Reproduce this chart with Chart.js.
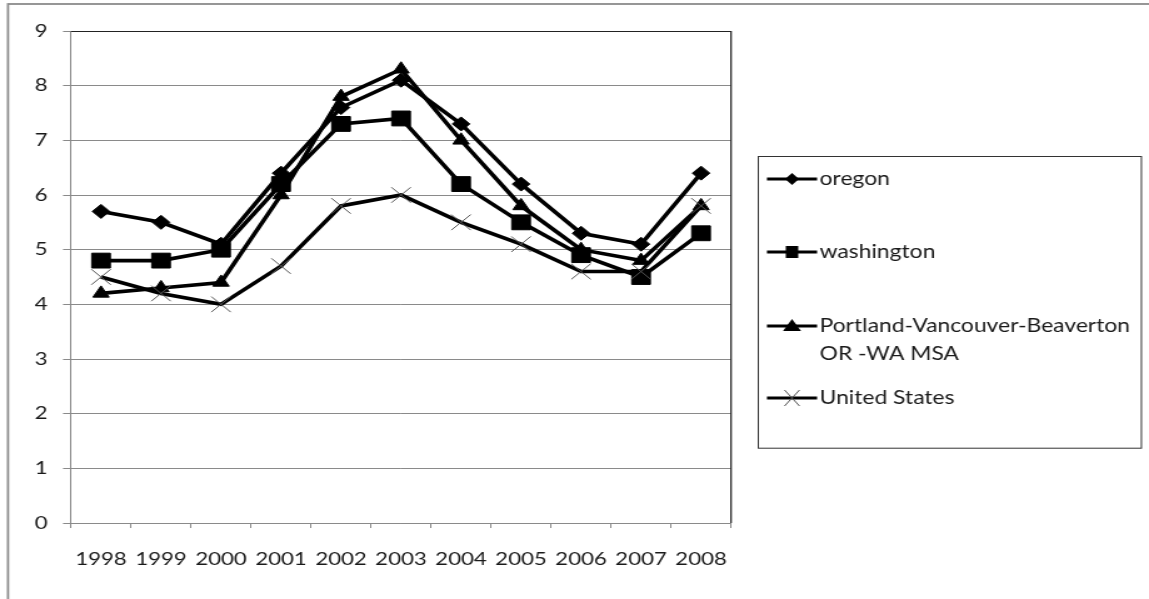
<!DOCTYPE html>
<html>
<head>
<meta charset="utf-8">
<script src="https://cdn.jsdelivr.net/npm/chart.js@4/dist/chart.umd.min.js"></script>
<style>
  html, body { margin: 0; padding: 0; background: #fff; overflow: hidden; }
  #wrap { width: 919px; height: 599px; transform: scaleX(1.2503); transform-origin: 0 0; }
  canvas { display: block; }
</style>
</head>
<body>
<div id="wrap"><canvas id="c" width="919" height="599"></canvas></div>
<script>
// Annual unemployment rate (%)
const years = ['1998', '1999', '2000', '2001', '2002', '2003', '2004', '2005', '2006', '2007', '2008'];
const oregon = [5.7, 5.5, 5.1, 6.4, 7.6, 8.1, 7.3, 6.2, 5.3, 5.1, 6.4];
const washington = [4.8, 4.8, 5.0, 6.2, 7.3, 7.4, 6.2, 5.5, 4.9, 4.5, 5.3];
const portlandMsa = [4.2, 4.3, 4.4, 6.0, 7.8, 8.3, 7.0, 5.8, 5.0, 4.8, 5.8];
const unitedStates = [4.5, 4.2, 4.0, 4.7, 5.8, 6.0, 5.5, 5.1, 4.6, 4.6, 5.8];
const seriesNames = ['oregon', 'washington', ['Portland-Vancouver-Beaverton', 'OR -WA MSA'], 'United States'];
const yTicks = [0, 1, 2, 3, 4, 5, 6, 7, 8, 9];

const FONT = 'Lato, "Liberation Sans", sans-serif';
const TEXT = '#1a1a1a';
const GRID = '#8a8a8a';

// Chart frame, plot-area border and the boxed legend on the right
const framePlugin = {
  id: 'frame',
  beforeDraw(chart) {
    const ctx = chart.ctx;
    ctx.save();
    ctx.fillStyle = '#fff';
    ctx.fillRect(0, 0, chart.width, chart.height);
    ctx.strokeStyle = '#8c8c8c';
    ctx.lineWidth = 1.8;
    ctx.strokeRect(6.4, 4, chart.width + 20, chart.height + 20);
    ctx.restore();
  },
  afterDatasetsDraw(chart) {
    const ctx = chart.ctx;
    const a = chart.chartArea;
    ctx.save();
    ctx.strokeStyle = '#222';
    ctx.lineWidth = 1.2;
    ctx.beginPath();
    ctx.moveTo(a.left, a.top + 0.5);
    ctx.lineTo(a.right, a.top + 0.5);
    ctx.lineTo(a.right, a.bottom);
    ctx.stroke();
    ctx.restore();
  },
  afterDraw(chart) {
    const ctx = chart.ctx;
    const box = { l: 606, t: 156, r: 912.4, b: 447.7 };
    ctx.save();
    ctx.strokeStyle = '#333';
    ctx.lineWidth = 1;
    ctx.strokeRect(box.l + 0.5, box.t + 0.5, box.r - box.l, box.b - box.t);
    const rows = [179, 252, 326, 398];
    const x0 = 613.4, x1 = 653.5, tx = 655.5;
    chart.data.datasets.forEach((ds, i) => {
      const y = rows[i];
      ctx.strokeStyle = '#000';
      ctx.lineWidth = 3;
      ctx.beginPath();
      ctx.moveTo(x0, y);
      ctx.lineTo(x1, y);
      ctx.stroke();
      drawMarker(ctx, ds.legendMarker, (x0 + x1) / 2, y);
      ctx.fillStyle = TEXT;
      ctx.font = '18.3px ' + FONT;
      ctx.textAlign = 'left';
      ctx.textBaseline = 'middle';
      const lines = Array.isArray(seriesNames[i]) ? seriesNames[i] : [seriesNames[i]];
      lines.forEach((t, k) => ctx.fillText(t, tx, y + k * 28.5));
    });
    ctx.restore();
  }
};

function drawMarker(ctx, kind, x, y) {
  ctx.save();
  ctx.fillStyle = '#000';
  ctx.strokeStyle = '#000';
  ctx.lineWidth = 1;
  ctx.beginPath();
  if (kind === 'diamond') {
    ctx.moveTo(x, y - 6); ctx.lineTo(x + 5.5, y); ctx.lineTo(x, y + 6); ctx.lineTo(x - 5.5, y); ctx.closePath();
    ctx.fill();
  } else if (kind === 'square') {
    ctx.rect(x - 5, y - 6, 10, 12);
    ctx.fill();
  } else if (kind === 'triangle') {
    ctx.moveTo(x, y - 7); ctx.lineTo(x + 7.2, y + 5); ctx.lineTo(x - 7.2, y + 5); ctx.closePath();
    ctx.fill();
  } else {
    ctx.strokeStyle = '#555';
    ctx.moveTo(x - 6, y - 8); ctx.lineTo(x + 6, y + 8);
    ctx.moveTo(x + 6, y - 8); ctx.lineTo(x - 6, y + 8);
    ctx.stroke();
  }
  ctx.restore();
}

function series(label, data, style, radius, marker, order, pointColor) {
  return {
    label: Array.isArray(label) ? label.join(' ') : label,
    data: data,
    borderColor: '#000',
    backgroundColor: '#000',
    borderWidth: 3.6,
    tension: 0,
    pointStyle: style,
    pointRadius: radius,
    pointHoverRadius: radius,
    pointBackgroundColor: '#000',
    pointBorderColor: pointColor || '#000',
    pointBorderWidth: 1,
    legendMarker: marker,
    order: order,
    clip: false
  };
}

new Chart(document.getElementById('c'), {
  type: 'line',
  data: {
    labels: years,
    datasets: [
      series(seriesNames[0], oregon, 'rectRot', 7, 'diamond', 4),
      series(seriesNames[1], washington, 'rect', 10.5, 'square', 3),
      series(seriesNames[2], portlandMsa, 'triangle', 7.5, 'triangle', 2),
      series(seriesNames[3], unitedStates, 'crossRot', 11, 'cross', 1, '#555')
    ]
  },
  options: {
    responsive: false,
    animation: false,
    devicePixelRatio: 1,
    layout: { padding: { top: 31, left: 0, right: 334.3, bottom: 0 } },
    plugins: { legend: { display: false }, tooltip: { enabled: false } },
    scales: {
      x: {
        type: 'category',
        offset: true,
        grid: { offset: true, drawOnChartArea: false, drawTicks: true, tickLength: 5, color: GRID, lineWidth: 1 },
        border: { color: GRID, width: 1 },
        ticks: { color: TEXT, font: { family: FONT, size: 17.8 }, padding: 21, maxRotation: 0, autoSkip: false },
        afterFit(scale) { scale.height = 76; }
      },
      y: {
        min: 0,
        max: 9,
        afterBuildTicks(scale) { scale.ticks = yTicks.map(v => ({ value: v })); },
        grid: { color: GRID, lineWidth: 1, drawTicks: true, tickLength: 6.4 },
        border: { color: GRID, width: 1 },
        ticks: { color: TEXT, font: { family: FONT, size: 17.8 }, padding: 12.3 },
        afterFit(scale) { scale.width = 56.8; }
      }
    }
  },
  plugins: [framePlugin]
});
</script>
</body>
</html>
